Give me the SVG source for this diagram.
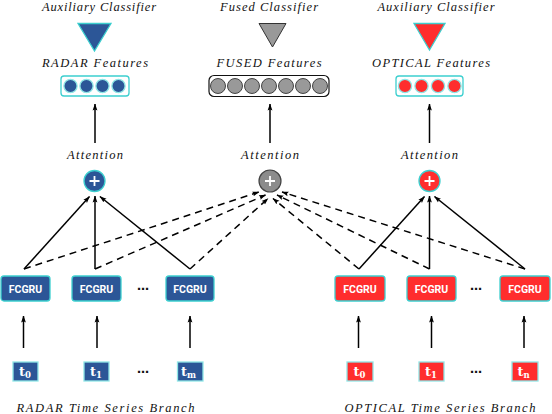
<svg xmlns="http://www.w3.org/2000/svg" width="552" height="414" viewBox="0 0 552 414">
<defs>
<marker id="ah" markerWidth="7" markerHeight="6" refX="6.5" refY="3" orient="auto" markerUnits="userSpaceOnUse">
<path d="M0,0.6 L7,3 L0,5.4 L1.2,3 Z" fill="#000"/>
</marker>
<style>
.lbl{font-family:'Liberation Serif',serif;font-style:italic;font-size:12.5px;fill:#111;text-anchor:middle}
.blue{fill:#2c5697}
.red{fill:#ff2d2d}
.cy{stroke:#3ccfcf;stroke-width:1.3}
.cyl{stroke:#8fe6e6;stroke-width:1.3}
.fc{font-family:Roboto,'Liberation Sans',sans-serif;font-weight:bold;font-size:10.5px;fill:#fff;text-anchor:middle}
.tt{font-family:'DejaVu Serif',serif;font-weight:bold;font-size:13px;fill:#fff}
.sub{font-size:8.5px}
.dots{font-family:'DejaVu Sans',sans-serif;font-weight:bold;font-size:12px;fill:#111;text-anchor:middle}
.ar{stroke:#000;stroke-width:1.5;fill:none;marker-end:url(#ah)}
.da{stroke:#000;stroke-width:1.5;fill:none;stroke-dasharray:7,5;marker-end:url(#ah)}
.plus{stroke:#fff;stroke-width:1.8}
</style>
</defs>
<rect width="552" height="414" fill="#fff"/>

<g id="labels">
<text class="lbl" x="99" y="11" textLength="114" lengthAdjust="spacing">Auxiliary Classifier</text>
<text class="lbl" x="269" y="11" textLength="98" lengthAdjust="spacing">Fused Classifier</text>
<text class="lbl" x="436" y="11" textLength="117" lengthAdjust="spacing">Auxiliary Classifier</text>
<text class="lbl" x="95" y="66.5" textLength="106" lengthAdjust="spacing">RADAR Features</text>
<text class="lbl" x="269" y="66.5" textLength="105" lengthAdjust="spacing">FUSED Features</text>
<text class="lbl" x="431" y="66.5" textLength="118" lengthAdjust="spacing">OPTICAL Features</text>
<text class="lbl" x="95" y="159" textLength="56" lengthAdjust="spacing">Attention</text>
<text class="lbl" x="270" y="159" textLength="58" lengthAdjust="spacing">Attention</text>
<text class="lbl" x="429.5" y="159" textLength="57" lengthAdjust="spacing">Attention</text>
<text class="lbl" x="105.5" y="411.5" textLength="178" lengthAdjust="spacing">RADAR Time Series Branch</text>
<text class="lbl" x="440" y="411.5" textLength="191" lengthAdjust="spacing">OPTICAL Time Series Branch</text>
</g>

<g id="radar-classifier">
<polygon points="78,23.5 111,23.5 94.5,51" class="blue cy"/>
</g>
<g id="fused-classifier">
<polygon points="259,23.5 286,23.5 272.5,47" fill="#999" stroke="#333" stroke-width="1"/>
</g>
<g id="optical-classifier">
<polygon points="414,23.5 445,23.5 429.5,50" class="red cy"/>
</g>

<g id="radar-features">
<rect x="61" y="76" width="68" height="20" rx="3" fill="#fff" class="cy"/>
<circle cx="70.5" cy="86" r="6.6" class="blue cyl"/>
<circle cx="86.5" cy="86" r="6.6" class="blue cyl"/>
<circle cx="102.5" cy="86" r="6.6" class="blue cyl"/>
<circle cx="118.5" cy="86" r="6.6" class="blue cyl"/>
</g>
<g id="fused-features">
<rect x="209" y="75.5" width="120" height="21" rx="5" fill="#fff" stroke="#111" stroke-width="1.2"/>
<g fill="#999" stroke="#333" stroke-width="0.9">
<circle cx="218" cy="86" r="7.5"/>
<circle cx="235" cy="86" r="7.5"/>
<circle cx="252" cy="86" r="7.5"/>
<circle cx="269" cy="86" r="7.5"/>
<circle cx="286" cy="86" r="7.5"/>
<circle cx="303" cy="86" r="7.5"/>
<circle cx="320" cy="86" r="7.5"/>
</g>
</g>
<g id="optical-features">
<rect x="396" y="76" width="67" height="20" rx="3" fill="#fff" class="cy"/>
<circle cx="405" cy="86" r="6.6" class="red cyl"/>
<circle cx="421.5" cy="86" r="6.6" class="red cyl"/>
<circle cx="438" cy="86" r="6.6" class="red cyl"/>
<circle cx="454.5" cy="86" r="6.6" class="red cyl"/>
</g>

<g id="radar-attention">
<circle cx="94.5" cy="181" r="10.5" class="blue cy" stroke-width="1.6"/>
<path d="M89.5,181 H99.5 M94.5,176 V186" class="plus"/>
</g>
<g id="fused-attention">
<circle cx="270" cy="181" r="11" fill="#8c8c8c" stroke="#444" stroke-width="1.2"/>
<path d="M265,181 H275 M270,176 V186" class="plus"/>
</g>
<g id="optical-attention">
<circle cx="429.5" cy="181" r="10.5" class="red cy" stroke-width="1.6"/>
<path d="M424.5,181 H434.5 M429.5,176 V186" class="plus"/>
</g>

<g id="radar-fcgru-0"><rect x="1" y="276" width="49" height="25" rx="3" class="blue cy"/><text class="fc" x="25.5" y="292.5">FCGRU</text></g>
<g id="radar-fcgru-1"><rect x="72" y="276" width="49" height="25" rx="3" class="blue cy"/><text class="fc" x="96.5" y="292.5">FCGRU</text></g>
<g id="radar-fcgru-m"><rect x="166" y="276" width="48" height="25" rx="3" class="blue cy"/><text class="fc" x="190" y="292.5">FCGRU</text></g>
<g id="optical-fcgru-0"><rect x="335" y="276" width="50" height="25" rx="3" class="red cy"/><text class="fc" x="360" y="292.5">FCGRU</text></g>
<g id="optical-fcgru-1"><rect x="407" y="276" width="49" height="25" rx="3" class="red cy"/><text class="fc" x="431.5" y="292.5">FCGRU</text></g>
<g id="optical-fcgru-n"><rect x="500" y="276" width="50" height="25" rx="3" class="red cy"/><text class="fc" x="525" y="292.5">FCGRU</text></g>
<text class="dots" x="143" y="292.5">⋯</text>
<text class="dots" x="476" y="292.5">⋯</text>

<g id="radar-t0"><rect x="13" y="362" width="25" height="19" class="blue cyl"/><text class="tt" x="19" y="376">t<tspan class="sub" dy="2">0</tspan></text></g>
<g id="radar-t1"><rect x="84" y="362" width="25" height="19" class="blue cyl"/><text class="tt" x="90" y="376">t<tspan class="sub" dy="2">1</tspan></text></g>
<g id="radar-tm"><rect x="177.5" y="362" width="25.5" height="19" class="blue cyl"/><text class="tt" x="181" y="376">t<tspan class="sub" dy="2">m</tspan></text></g>
<g id="optical-t0"><rect x="347" y="362" width="26" height="19" class="red cyl"/><text class="tt" x="353.5" y="376">t<tspan class="sub" dy="2">0</tspan></text></g>
<g id="optical-t1"><rect x="419" y="362" width="25" height="19" class="red cyl"/><text class="tt" x="425" y="376">t<tspan class="sub" dy="2">1</tspan></text></g>
<g id="optical-tn"><rect x="512" y="362" width="26" height="19" class="red cyl"/><text class="tt" x="517.5" y="376">t<tspan class="sub" dy="2">n</tspan></text></g>
<text class="dots" x="143" y="375.5">⋯</text>
<text class="dots" x="476" y="375.5">⋯</text>

<g id="connectors">
<line x1="95" y1="143" x2="95" y2="104" class="ar"/>
<line x1="270" y1="143" x2="270" y2="104" class="ar"/>
<line x1="429.5" y1="143" x2="429.5" y2="104" class="ar"/>

<line x1="24" y1="269" x2="89.5" y2="196.5" class="ar"/>
<line x1="95" y1="269" x2="95" y2="196" class="ar"/>
<line x1="190" y1="269" x2="100" y2="196.5" class="ar"/>

<line x1="359" y1="269" x2="424.5" y2="196.5" class="ar"/>
<line x1="429.5" y1="269" x2="429.5" y2="196" class="ar"/>
<line x1="525" y1="269" x2="434.5" y2="196.5" class="ar"/>

<line x1="24" y1="269" x2="259" y2="192" class="da"/>
<line x1="95" y1="269" x2="265.5" y2="195" class="da"/>
<line x1="190" y1="269" x2="268" y2="198.5" class="da"/>
<line x1="359" y1="269" x2="273" y2="198.5" class="da"/>
<line x1="429.5" y1="269" x2="277" y2="195" class="da"/>
<line x1="525" y1="269" x2="282" y2="192" class="da"/>

<line x1="23.5" y1="348" x2="23.5" y2="316" class="ar"/>
<line x1="97" y1="348" x2="97" y2="316" class="ar"/>
<line x1="190" y1="348" x2="190" y2="316" class="ar"/>
<line x1="358.5" y1="348" x2="358.5" y2="316" class="ar"/>
<line x1="431.5" y1="348" x2="431.5" y2="316" class="ar"/>
<line x1="524" y1="348" x2="524" y2="316" class="ar"/>
</g>
</svg>
